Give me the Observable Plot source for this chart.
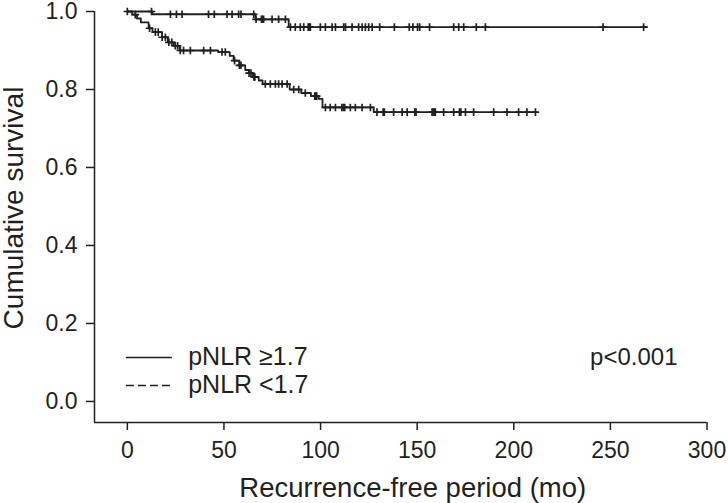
<!DOCTYPE html>
<html><head><meta charset="utf-8">
<script src="https://cdn.jsdelivr.net/npm/d3@7"></script>
<script src="https://cdn.jsdelivr.net/npm/@observablehq/plot@0.6"></script>
<style>body{margin:0;background:#fff}#chart svg{display:block}</style>
</head><body><div id="chart"></div>
<script>
// ---- data ----
const xTicks = [0, 50, 100, 150, 200, 250, 300];
const yTicks = [0, 0.2, 0.4, 0.6, 0.8, 1.0];
const groups = ["pNLR ≥1.7", "pNLR <1.7"];
const pText = "p<0.001";
const xTitle = "Recurrence-free period (mo)";
const yTitle = "Cumulative survival";

// upper curve
const upperStepTimes = [0, 13, 66.3, 83.5];
const upperStepSurv  = [1.0, 0.993, 0.980, 0.960];
const upperEnd = 269;
const upperCensor = [0, 12.5, 22.3, 25.4, 28.3, 42, 45, 51.6, 54.2, 57.6, 58.8, 65.4, 66.6, 69.4, 69.9, 70.5,
  74.9, 78.3, 81.8, 84.4, 86.9, 89.5, 91.3, 93.6, 94.1, 94.7, 99.9, 102.5, 106, 107.7, 112, 112.9, 116.3,
  119.7, 121.5, 123.2, 124.9, 126.7, 130.6, 138.2, 145.9, 147.8, 150.2, 151.3, 156.4, 168.9, 171.5, 174.1,
  180.6, 185.3, 246.2, 267.2];

// lower curve
const lowerStepTimes = [0, 2.5, 5, 7, 11, 13, 18, 21, 24, 27, 47, 53, 55, 58, 61, 63, 65, 68, 70, 84, 90, 95, 99, 101, 127.5];
const lowerStepSurv  = [1.0, 0.992, 0.982, 0.972, 0.957, 0.947, 0.934, 0.921, 0.912, 0.900, 0.896, 0.886, 0.874,
  0.862, 0.850, 0.842, 0.832, 0.823, 0.814, 0.800, 0.791, 0.783, 0.776, 0.754, 0.742];
const lowerEnd = 211.5;
const lowerCensor = [4.1, 11.5, 14.5, 16, 18, 19.7, 21.5, 23, 24.8, 26, 27.4, 29.1, 32.6, 39.5, 43, 49, 50.7, 55.5,
  58, 58.8, 63, 64, 65.5, 66, 71.4, 74, 76.6, 78.3, 80.1, 82.7, 86.1, 88.7, 92.1, 97, 97.5, 98, 102.5, 105, 107.7,
  111, 111.8, 112.5, 115.4, 118, 121.5, 125.8, 129.2, 132.4, 133, 137.8, 142.2, 144.8, 148.8, 149.4, 157.7, 158.3,
  158.9, 159.4, 163.7, 168.9, 171.9, 172.6, 175, 179.2, 189.6, 196.5, 202.5, 206.8, 211.2];

// ---- build tables ----
function steps(times, surv, end) {
  const d = times.map((t, i) => ({t, s: surv[i]}));
  d.push({t: end, s: surv[surv.length - 1]});
  return d;
}
function survAt(times, surv, t) {
  let s = surv[0];
  for (let i = 0; i < times.length; i++) if (times[i] <= t) s = surv[i];
  return s;
}
const upperLine = steps(upperStepTimes, upperStepSurv, upperEnd);
const lowerLine = steps(lowerStepTimes, lowerStepSurv, lowerEnd);
const censors = [
  ...upperCensor.map(t => ({t, s: survAt(upperStepTimes, upperStepSurv, t)})),
  ...lowerCensor.map(t => ({t, s: survAt(lowerStepTimes, lowerStepSurv, t)}))
];
const legend = groups.map((g, i) => ({label: g, y: i === 0 ? 0.113 : 0.041}));

const ink = "#231f20";
const plusSym = {draw(ctx, size) {
  const r = Math.sqrt(size / Math.PI);
  ctx.moveTo(-r, 0); ctx.lineTo(r, 0);
  ctx.moveTo(0, -r); ctx.lineTo(0, r);
}};

const xMin = -17, yMin = -0.054;

const chart = Plot.plot({
  width: 728, height: 503,
  marginLeft: 94, marginRight: 21.5, marginTop: 11, marginBottom: 81,
  x: {domain: [xMin, 300]},
  y: {domain: [yMin, 1.0]},
  style: {fontFamily: "'Liberation Sans', Arial, sans-serif", fontSize: "23px", color: ink, background: "#fff", overflow: "visible"},
  marks: [
    Plot.axisX({ticks: xTicks, tickSize: 8, tickPadding: 11, fontSize: 23, label: null, strokeWidth: 1.5, tickFormat: d => String(d)}),
    Plot.axisY({ticks: yTicks, tickSize: 8, tickPadding: 9, fontSize: 23, label: null, strokeWidth: 1.5, tickFormat: d3.format(".1f")}),
    Plot.ruleY([yMin], {x1: xMin, x2: 300, stroke: ink, strokeWidth: 1.5}),
    Plot.ruleX([xMin], {y1: yMin, y2: 1.0, stroke: ink, strokeWidth: 1.5}),
    Plot.text([xTitle], {frameAnchor: "bottom", textAnchor: "middle", dx: 12, dy: 66, lineAnchor: "middle", fontSize: 27.5, fill: ink}),
    Plot.text([yTitle], {frameAnchor: "left", textAnchor: "middle", rotate: -90, dx: -80, dy: -9, lineAnchor: "middle", fontSize: 28, fill: ink}),
    Plot.line(upperLine, {x: "t", y: "s", curve: "step-after", stroke: ink, strokeWidth: 1.8}),
    Plot.line(lowerLine, {x: "t", y: "s", curve: "step-after", stroke: ink, strokeWidth: 1.8}),
    Plot.dot(censors, {x: "t", y: "s", symbol: plusSym, r: 3.8, stroke: ink, strokeWidth: 1.7, fill: "none"}),
    Plot.ruleY(legend.slice(0, 1), {y: "y", x1: -0.5, x2: 23.3, stroke: ink, strokeWidth: 1.5}),
    Plot.ruleY(legend.slice(1), {y: "y", x1: -0.5, x2: 23.3, stroke: ink, strokeWidth: 1.5, strokeDasharray: "8,4"}),
    Plot.text(legend, {x: 31.5, y: "y", text: "label", textAnchor: "start", fontSize: 25, fill: ink}),
    Plot.text([pText], {x: 239.5, y: 0.113, textAnchor: "start", fontSize: 24, fill: ink})
  ]
});
document.getElementById("chart").appendChild(chart);
</script>
</body></html>
